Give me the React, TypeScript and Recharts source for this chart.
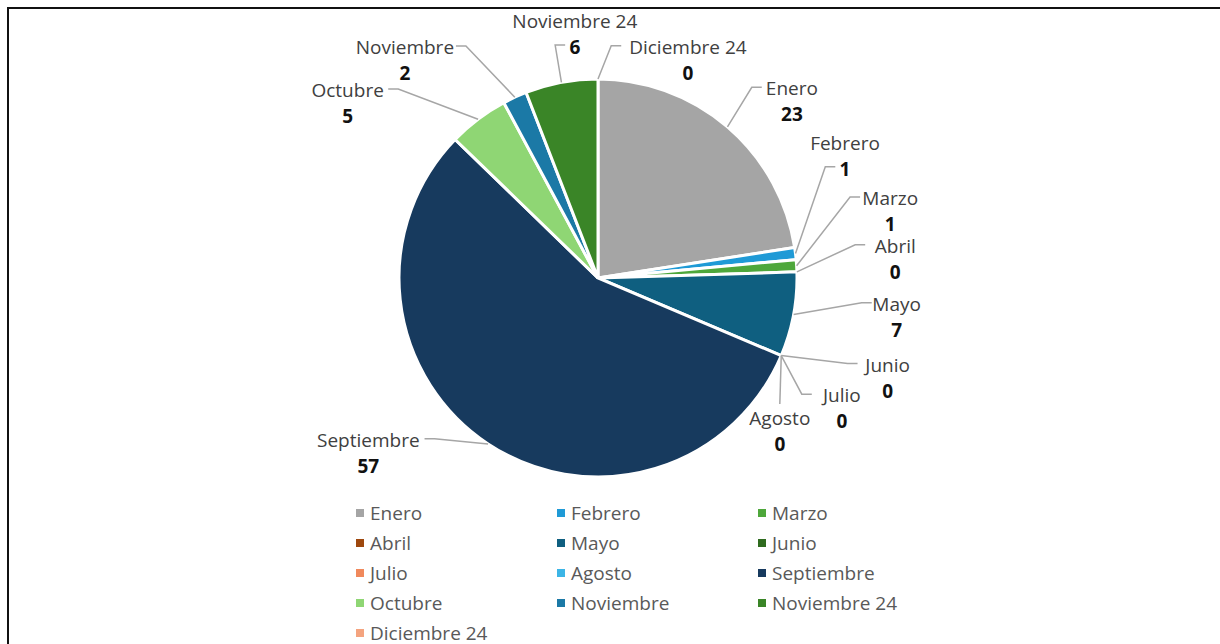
import React from 'react'
import { PieChart, Pie, Cell, Legend } from 'recharts'

const months = [
  'Enero', 'Febrero', 'Marzo', 'Abril', 'Mayo', 'Junio', 'Julio',
  'Agosto', 'Septiembre', 'Octubre', 'Noviembre', 'Noviembre 24', 'Diciembre 24',
]
const counts = [23, 1, 1, 0, 7, 0, 0, 0, 57, 5, 2, 6, 0]

const COLORS = [
  '#a5a5a5', // Enero
  '#1f9ad6', // Febrero
  '#4ea73b', // Marzo
  '#9e480e', // Abril
  '#0f5f80', // Mayo
  '#2f6b1f', // Junio
  '#f0895c', // Julio
  '#3cb5e6', // Agosto
  '#173a5e', // Septiembre
  '#8fd674', // Octubre
  '#1b79a6', // Noviembre
  '#3a8527', // Noviembre 24
  '#f4a47f', // Diciembre 24
]

// where each label sits: angle (deg, ccw from 3 o'clock), distance from centre, and where the leader ends
const LABEL_ANGLE = [42.5, 26.5, 13.1, 3.9, -7.2, -18.8, -27.9, -39.9, 217.1, 144.9, 131.4, 95.4, 67.7]
const LABEL_DIST = [263, 276, 300, 298, 301, 306, 276, 237, 288, 306, 292, 246, 237]
const LABEL_ATTACH = ['name', 'value', 'name', 'name', 'name', 'name', 'name', 'top', 'name', 'name', 'name', 'value', 'name']

const data = months.map((m, i) => ({ name: m, value: counts[i] }))

const CX = 598
const CY = 278
const R = 199
const FS = 19
const RAD = Math.PI / 180

const textW = (s: string, bold = false) => s.length * FS * (bold ? 0.6 : 0.55)

const renderLabel = (props: any) => {
  const { index, midAngle } = props
  const name = months[index]
  const val = String(counts[index])
  const a = LABEL_ANGLE[index] * RAD
  const lx = CX + LABEL_DIST[index] * Math.cos(a)
  const ly = CY - LABEL_DIST[index] * Math.sin(a)
  const nameY = ly - 12
  const valY = ly + 14

  const sx = CX + R * Math.cos(-midAngle * RAD)
  const sy = CY + R * Math.sin(-midAngle * RAD)

  let pts: number[][]
  const attach = LABEL_ATTACH[index]
  if (attach === 'top') {
    pts = [[sx, sy], [lx, nameY - 14]]
  } else {
    const rowY = attach === 'value' ? valY - 2 : nameY - 1
    const half = attach === 'value' ? textW(val, true) / 2 : textW(name) / 2
    const right = lx > sx
    const ex = right ? lx - half - 4 : lx + half + 4
    const elbow = right ? ex - 10 : ex + 10
    pts = [[sx, sy], [elbow, rowY], [ex, rowY]]
  }

  return (
    <g key={`lbl-${index}`}>
      <polyline
        points={pts.map((p) => p.join(',')).join(' ')}
        fill="none"
        stroke="#a6a6a6"
        strokeWidth={1.5}
      />
      <text x={lx} y={nameY} textAnchor="middle" dominantBaseline="central" fill="#404040" fontSize={FS}>
        {name}
      </text>
      <text x={lx} y={valY} textAnchor="middle" dominantBaseline="central" fill="#111" fontSize={FS} fontWeight="bold">
        {val}
      </text>
    </g>
  )
}

const LegendGrid = () => (
  <div
    style={{
      display: 'grid',
      gridTemplateColumns: '201px 201px 201px',
      rowGap: 0,
      fontFamily: '"Open Sans", sans-serif',
      fontSize: FS,
      color: '#595959',
    }}
  >
    {months.map((m, i) => (
      <div key={m} style={{ display: 'flex', alignItems: 'center', height: 30 }}>
        <span style={{ width: 8, height: 8, background: COLORS[i], marginRight: 6, display: 'inline-block' }} />
        {m}
      </div>
    ))}
  </div>
)

export default function App() {
  return (
    <div
      style={{
        position: 'absolute',
        left: 0,
        top: 0,
        width: 1220,
        height: 644,
        background: '#fff',
        overflow: 'hidden',
        fontFamily: '"Open Sans", sans-serif',
      }}
    >
      <div
        style={{
          position: 'absolute',
          left: 7,
          top: 7,
          right: 0,
          bottom: 0,
          borderTop: '2px solid #111',
          borderLeft: '2px solid #111',
        }}
      />
      <PieChart
        width={1220}
        height={644}
        margin={{ top: 0, right: 0, bottom: 0, left: 0 }}
        style={{ position: 'absolute', left: 0, top: 0 }}
      >
        <Pie
          data={data}
          dataKey="value"
          nameKey="name"
          cx={CX}
          cy={CY}
          outerRadius={R}
          startAngle={90}
          endAngle={-270}
          stroke="#fff"
          strokeWidth={3}
          label={renderLabel}
          labelLine={false}
          isAnimationActive={false}
        >
          {data.map((d, i) => (
            <Cell key={d.name} fill={COLORS[i]} />
          ))}
        </Pie>
        <Legend
          content={() => <LegendGrid />}
          wrapperStyle={{ position: 'absolute', left: 356, top: 498, width: 620, bottom: 'auto' }}
        />
      </PieChart>
    </div>
  )
}
